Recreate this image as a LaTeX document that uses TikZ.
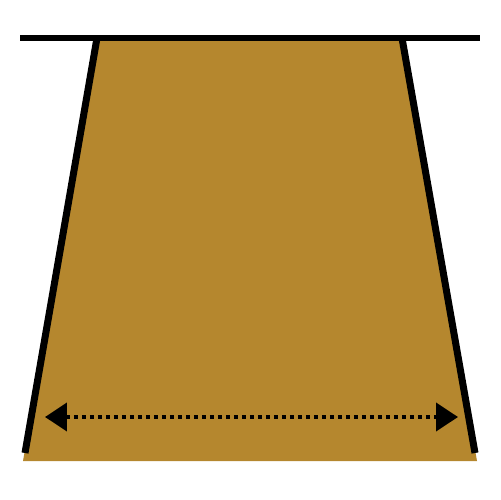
\documentclass[tikz,border=0pt]{standalone}
\usepackage{xcolor}
\usepackage{tikz}
\usetikzlibrary{arrows.meta}
\definecolor{soil}{RGB}{181,135,46}

\begin{document}
\begin{tikzpicture}[x=0.02cm, y=-0.02cm]
\useasboundingbox (0,0) rectangle (500,500);
% Trench body
\fill[soil] (97,38) -- (402,38) -- (477,461) -- (23,461) -- cycle;
% Walls
\draw[line width=0.14cm] (97,38) -- (25,453);
\draw[line width=0.14cm] (402,38) -- (475,453);
% Ground line
\draw[line width=0.13cm] (20,38) -- (480,38);
% Width arrow
\coordinate (wl) at (45,417);
\coordinate (wr) at (458,417);
\draw[line width=0.08cm, dash pattern=on 0.08cm off 0.08cm,
  {Triangle[length=0.44cm, width=0.56cm]}-{Triangle[length=0.44cm, width=0.56cm]}] (wl) -- (wr);
\end{tikzpicture}
\end{document}
